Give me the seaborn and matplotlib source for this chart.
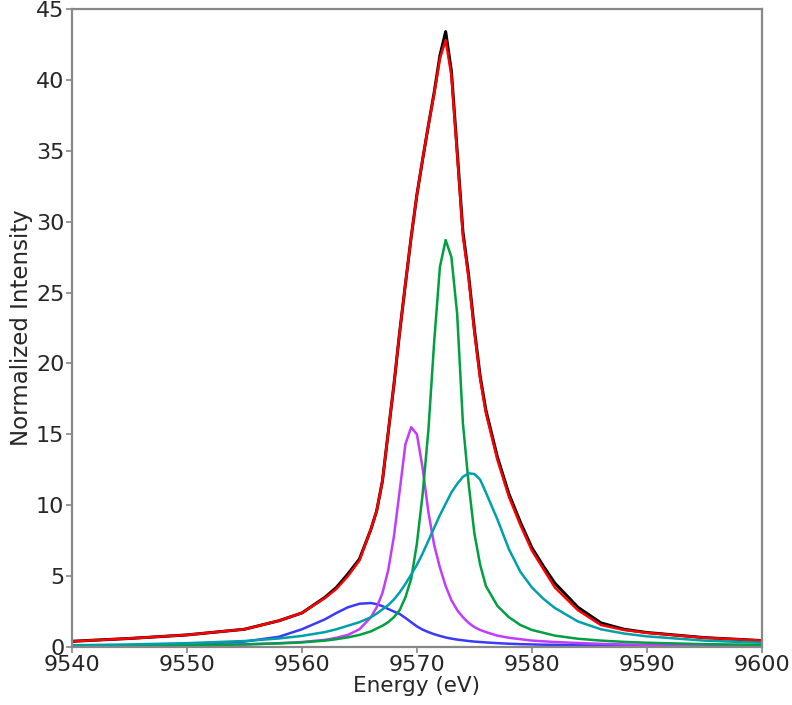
import pandas as pd
import matplotlib
matplotlib.use("Agg")
import matplotlib.pyplot as plt
import seaborn as sns

# energy grid (eV) and curves
energy = [9540, 9545, 9550, 9555, 9558, 9560, 9562, 9563, 9564, 9565, 9566, 9566.5,
          9567, 9567.5, 9568, 9568.5, 9569, 9569.5, 9570, 9570.5, 9571, 9571.5,
          9572, 9572.5, 9573, 9573.5, 9574, 9574.5, 9575, 9575.5, 9576, 9577,
          9578, 9579, 9580, 9581, 9582, 9584, 9586, 9588, 9590, 9595, 9600]

data = [0.4, 0.6, 0.85, 1.25, 1.85, 2.4, 3.5, 4.2, 5.15, 6.2, 8.3, 9.6,
        11.7, 15.1, 18.5, 22.2, 25.6, 28.9, 31.9, 34.4, 36.8, 39.1,
        41.7, 43.4, 40.6, 35.0, 29.3, 26.2, 22.4, 19.1, 16.7, 13.4,
        10.8, 8.8, 7.0, 5.7, 4.5, 2.8, 1.7, 1.25, 1.02, 0.66, 0.45]

fit = [0.4, 0.6, 0.85, 1.25, 1.85, 2.4, 3.45, 4.1, 5.0, 6.1, 8.3, 9.6,
       11.7, 15.1, 18.5, 22.2, 25.6, 28.9, 31.9, 34.4, 36.8, 39.0,
       41.5, 42.8, 40.3, 34.8, 29.0, 26.0, 22.2, 18.9, 16.5, 13.2,
       10.6, 8.6, 6.8, 5.5, 4.2, 2.6, 1.55, 1.2, 1.0, 0.65, 0.45]

blue = [0.05, 0.1, 0.17, 0.38, 0.72, 1.25, 1.95, 2.4, 2.8, 3.05, 3.1, 3.02,
        2.88, 2.68, 2.5, 2.33, 2.05, 1.75, 1.45, 1.22, 1.05, 0.9,
        0.78, 0.67, 0.59, 0.52, 0.47, 0.42, 0.38, 0.35, 0.32, 0.27,
        0.23, 0.2, 0.18, 0.16, 0.15, 0.12, 0.1, 0.09, 0.08, 0.06, 0.05]

magenta = [0.05, 0.07, 0.1, 0.18, 0.27, 0.35, 0.5, 0.65, 0.85, 1.25, 2.1, 2.8,
           3.8, 5.4, 7.8, 11.0, 14.3, 15.5, 15.0, 12.6, 9.5, 7.2,
           5.6, 4.3, 3.3, 2.6, 2.1, 1.7, 1.4, 1.2, 1.05, 0.8,
           0.65, 0.55, 0.45, 0.4, 0.35, 0.28, 0.22, 0.18, 0.15, 0.1, 0.08]

green = [0.07, 0.09, 0.12, 0.18, 0.25, 0.32, 0.45, 0.55, 0.68, 0.85, 1.1, 1.3,
         1.5, 1.75, 2.1, 2.6, 3.5, 4.8, 7.3, 10.8, 15.3, 21.5,
         26.8, 28.7, 27.5, 23.5, 15.8, 11.5, 8.0, 5.8, 4.3, 2.9,
         2.1, 1.55, 1.2, 1.0, 0.8, 0.58, 0.45, 0.36, 0.3, 0.2, 0.15]

cyan = [0.12, 0.18, 0.27, 0.42, 0.6, 0.78, 1.05, 1.25, 1.5, 1.75, 2.1, 2.35,
        2.65, 2.95, 3.35, 3.85, 4.45, 5.1, 5.8, 6.6, 7.5, 8.4,
        9.3, 10.1, 10.9, 11.5, 12.0, 12.25, 12.2, 11.8, 10.9, 9.0,
        6.9, 5.3, 4.2, 3.4, 2.75, 1.8, 1.25, 0.95, 0.75, 0.45, 0.3]

series = {"data": data, "fit": fit, "blue": blue, "magenta": magenta,
          "green": green, "cyan": cyan}
colors = {"data": "black", "fit": "#ff0000", "blue": "#3a3aff",
          "magenta": "#c03cff", "green": "#00a040", "cyan": "#00a0a8"}

df = pd.concat([pd.DataFrame({"Energy": energy, "Intensity": v, "curve": k})
                for k, v in series.items()], ignore_index=True)

sns.set_style("white")
plt.rcParams["font.family"] = ["DejaVu Sans"]

fig = plt.figure(figsize=(7.92, 7.05), dpi=100)
ax = fig.add_axes([0.0909, 0.0823, 0.871, 0.905])

for name in series:
    sns.lineplot(data=df[df["curve"] == name], x="Energy", y="Intensity",
                 color=colors[name], lw=2.2 if name == "data" else 1.8,
                 sort=False, estimator=None, ax=ax)

ax.set_xlim(9540, 9600)
ax.set_ylim(0, 45)
ax.set_xticks(range(9540, 9601, 10))
ax.set_yticks(range(0, 46, 5))
ax.set_xlabel("Energy (eV)", fontsize=15.5, labelpad=1)
ax.set_ylabel("Normalized Intensity", fontsize=16.5, labelpad=2)
ax.tick_params(labelsize=16, direction="out", length=4, width=1.2,
               color="#888888", left=True, bottom=True, pad=1.5)
for sp in ax.spines.values():
    sp.set_color("#888888")
    sp.set_linewidth(1.6)

fig.savefig("out.png", dpi=100)
